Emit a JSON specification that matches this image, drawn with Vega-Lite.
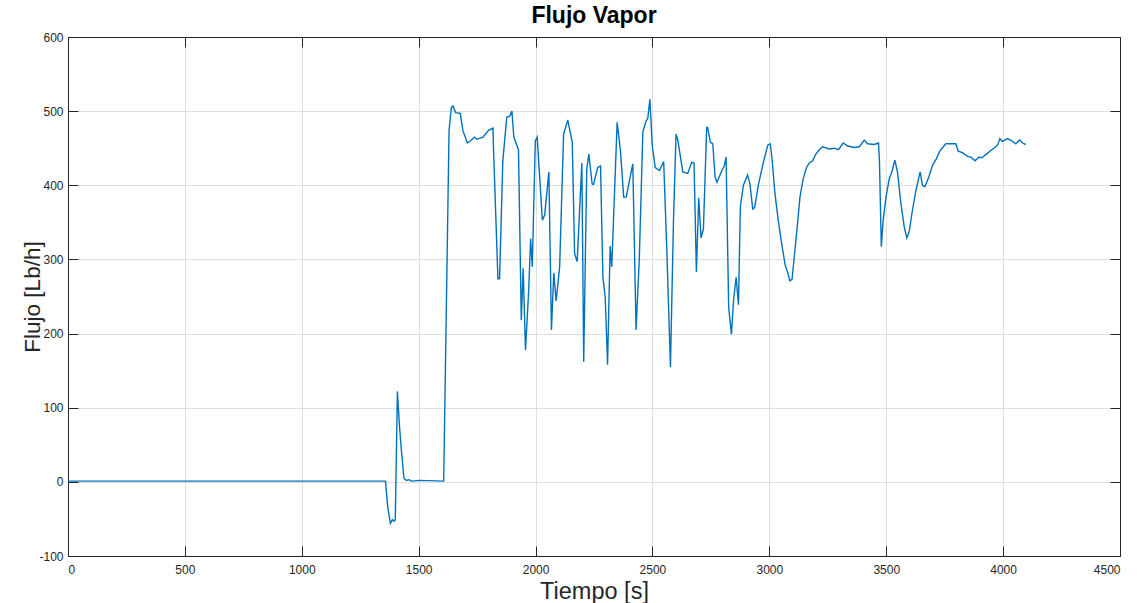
{
  "$schema": "https://vega.github.io/schema/vega-lite/v6.json",
  "width": 1052,
  "height": 519,
  "autosize": {"type": "none"},
  "padding": {"left": 68, "top": 37, "right": 23, "bottom": 47},
  "background": "white",
  "title": {"text": "Flujo Vapor", "fontSize": 23, "fontWeight": "bold", "font": "Liberation Sans", "color": "#000000", "offset": 3},
  "config": {
    "view": {"stroke": "#262626", "strokeWidth": 1},
    "axis": {
      "labelFont": "Liberation Sans",
      "labelFontSize": 12,
      "labelColor": "#262626",
      "titleFont": "Liberation Sans",
      "titleFontWeight": "normal",
      "titleColor": "#262626",
      "domainColor": "#262626",
      "tickColor": "#262626",
      "gridColor": "#dfdfdf",
      "gridWidth": 1,
      "labelExpr": "'' + datum.value"
    }
  },
  "data": {"values": [
    {"t":0,"flujo":1},{"t":1358,"flujo":1},{"t":1368,"flujo":-35},{"t":1379,"flujo":-56},{"t":1388,"flujo":-51},{"t":1395,"flujo":-53},{"t":1400,"flujo":-51},{"t":1409,"flujo":122},{"t":1418,"flujo":75},{"t":1426,"flujo":43},{"t":1437,"flujo":5},{"t":1447,"flujo":2},{"t":1459,"flujo":3},{"t":1469,"flujo":1},{"t":1504,"flujo":2},{"t":1607,"flujo":1},{"t":1618,"flujo":227},{"t":1630,"flujo":474},{"t":1640,"flujo":505},{"t":1647,"flujo":507},{"t":1658,"flujo":498},{"t":1678,"flujo":497},{"t":1689,"flujo":474},{"t":1708,"flujo":457},{"t":1722,"flujo":460},{"t":1739,"flujo":465},{"t":1749,"flujo":462},{"t":1775,"flujo":465},{"t":1799,"flujo":474},{"t":1818,"flujo":477},{"t":1820,"flujo":451},{"t":1839,"flujo":274},{"t":1846,"flujo":274},{"t":1860,"flujo":433},{"t":1877,"flujo":492},{"t":1889,"flujo":493},{"t":1899,"flujo":500},{"t":1907,"flujo":465},{"t":1927,"flujo":448},{"t":1939,"flujo":218},{"t":1947,"flujo":288},{"t":1957,"flujo":178},{"t":1970,"flujo":254},{"t":1979,"flujo":328},{"t":1986,"flujo":290},{"t":1999,"flujo":460},{"t":2007,"flujo":465},{"t":2029,"flujo":353},{"t":2039,"flujo":360},{"t":2057,"flujo":418},{"t":2068,"flujo":205},{"t":2078,"flujo":282},{"t":2088,"flujo":244},{"t":2103,"flujo":290},{"t":2120,"flujo":469},{"t":2138,"flujo":488},{"t":2157,"flujo":458},{"t":2167,"flujo":308},{"t":2178,"flujo":297},{"t":2198,"flujo":430},{"t":2206,"flujo":162},{"t":2219,"flujo":422},{"t":2228,"flujo":442},{"t":2242,"flujo":402},{"t":2248,"flujo":401},{"t":2266,"flujo":424},{"t":2278,"flujo":426},{"t":2288,"flujo":276},{"t":2298,"flujo":249},{"t":2308,"flujo":158},{"t":2319,"flujo":318},{"t":2326,"flujo":290},{"t":2349,"flujo":485},{"t":2363,"flujo":447},{"t":2377,"flujo":384},{"t":2388,"flujo":384},{"t":2402,"flujo":407},{"t":2416,"flujo":429},{"t":2430,"flujo":205},{"t":2444,"flujo":303},{"t":2459,"flujo":472},{"t":2473,"flujo":487},{"t":2480,"flujo":490},{"t":2489,"flujo":516},{"t":2499,"flujo":454},{"t":2512,"flujo":424},{"t":2530,"flujo":420},{"t":2548,"flujo":432},{"t":2562,"flujo":308},{"t":2577,"flujo":155},{"t":2590,"flujo":353},{"t":2601,"flujo":469},{"t":2608,"flujo":462},{"t":2630,"flujo":418},{"t":2651,"flujo":416},{"t":2668,"flujo":431},{"t":2678,"flujo":430},{"t":2688,"flujo":283},{"t":2698,"flujo":383},{"t":2708,"flujo":329},{"t":2718,"flujo":341},{"t":2732,"flujo":478},{"t":2736,"flujo":478},{"t":2748,"flujo":458},{"t":2758,"flujo":456},{"t":2768,"flujo":411},{"t":2776,"flujo":404},{"t":2800,"flujo":422},{"t":2807,"flujo":426},{"t":2815,"flujo":438},{"t":2826,"flujo":236},{"t":2838,"flujo":199},{"t":2847,"flujo":245},{"t":2858,"flujo":276},{"t":2868,"flujo":239},{"t":2876,"flujo":371},{"t":2889,"flujo":400},{"t":2907,"flujo":414},{"t":2917,"flujo":402},{"t":2929,"flujo":368},{"t":2937,"flujo":370},{"t":2954,"flujo":402},{"t":2976,"flujo":433},{"t":2993,"flujo":454},{"t":3004,"flujo":456},{"t":3011,"flujo":438},{"t":3024,"flujo":389},{"t":3038,"flujo":353},{"t":3053,"flujo":321},{"t":3068,"flujo":292},{"t":3078,"flujo":283},{"t":3088,"flujo":271},{"t":3097,"flujo":273},{"t":3111,"flujo":317},{"t":3121,"flujo":350},{"t":3131,"flujo":384},{"t":3145,"flujo":409},{"t":3159,"flujo":424},{"t":3171,"flujo":430},{"t":3185,"flujo":433},{"t":3199,"flujo":442},{"t":3214,"flujo":448},{"t":3228,"flujo":452},{"t":3256,"flujo":449},{"t":3278,"flujo":450},{"t":3296,"flujo":448},{"t":3316,"flujo":457},{"t":3335,"flujo":453},{"t":3363,"flujo":451},{"t":3385,"flujo":452},{"t":3406,"flujo":461},{"t":3420,"flujo":456},{"t":3449,"flujo":455},{"t":3467,"flujo":457},{"t":3471,"flujo":433},{"t":3479,"flujo":317},{"t":3487,"flujo":353},{"t":3499,"flujo":384},{"t":3513,"flujo":409},{"t":3524,"flujo":418},{"t":3537,"flujo":434},{"t":3548,"flujo":418},{"t":3563,"flujo":375},{"t":3577,"flujo":344},{"t":3588,"flujo":329},{"t":3598,"flujo":337},{"t":3612,"flujo":366},{"t":3627,"flujo":393},{"t":3637,"flujo":407},{"t":3645,"flujo":418},{"t":3655,"flujo":400},{"t":3665,"flujo":398},{"t":3681,"flujo":410},{"t":3698,"flujo":427},{"t":3715,"flujo":436},{"t":3729,"flujo":446},{"t":3755,"flujo":456},{"t":3776,"flujo":456},{"t":3798,"flujo":456},{"t":3808,"flujo":446},{"t":3826,"flujo":444},{"t":3848,"flujo":439},{"t":3862,"flujo":438},{"t":3880,"flujo":433},{"t":3897,"flujo":438},{"t":3909,"flujo":437},{"t":3929,"flujo":442},{"t":3947,"flujo":447},{"t":3969,"flujo":452},{"t":3978,"flujo":455},{"t":3986,"flujo":463},{"t":3997,"flujo":459},{"t":4018,"flujo":463},{"t":4037,"flujo":460},{"t":4054,"flujo":456},{"t":4071,"flujo":461},{"t":4083,"flujo":457},{"t":4097,"flujo":455}
  ]},
  "layer": [
    {
      "mark": {"type": "line", "color": "#0072BD", "strokeWidth": 1.4, "interpolate": "linear"},
      "encoding": {
        "x": {"field": "t", "type": "quantitative", "scale": {"domain": [0, 4500], "nice": false}, "axis": {"title": "Tiempo [s]", "titleFontSize": 23.5, "values": [0,500,1000,1500,2000,2500,3000,3500,4000,4500], "grid": true, "tickSize": -10, "labelPadding": 18, "titlePadding": 4}},
        "y": {"field": "flujo", "type": "quantitative", "scale": {"domain": [-100, 600], "nice": false, "zero": false}, "axis": {"title": "Flujo [Lb/h]", "titleFontSize": 22.5, "values": [-100,0,100,200,300,400,500,600], "grid": true, "tickSize": -10, "labelPadding": 15, "titlePadding": -6}}
      }
    },
    {
      "mark": {"type": "line", "opacity": 0},
      "encoding": {
        "x": {"field": "t", "type": "quantitative", "axis": {"orient": "top", "title": null, "labels": false, "grid": false, "tickSize": -10, "values": [0,500,1000,1500,2000,2500,3000,3500,4000,4500]}},
        "y": {"field": "flujo", "type": "quantitative", "axis": {"orient": "right", "title": null, "labels": false, "grid": false, "tickSize": -10, "values": [-100,0,100,200,300,400,500,600]}}
      }
    }
  ],
  "resolve": {"axis": {"x": "independent", "y": "independent"}}
}
